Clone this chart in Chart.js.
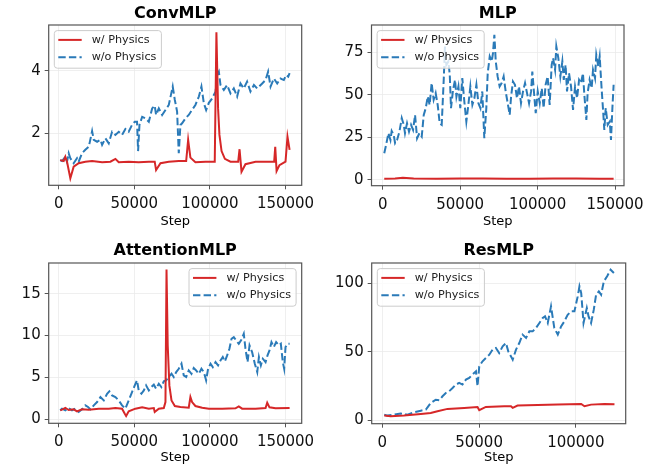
<!DOCTYPE html>
<html>
<head>
<meta charset="utf-8">
<script src="https://cdn.jsdelivr.net/npm/chart.js@4.4.0/dist/chart.umd.min.js"></script>
<style>
  html, body { margin: 0; padding: 0; background: #fff; }
  body { width: 670px; height: 466px; position: relative; overflow: hidden; }
  canvas { position: absolute; }
</style>
</head>
<body>
<script>
// ---- ConvMLP ----
const convPhysSteps = [1000, 3300, 4400, 5500, 7700, 9900, 13200, 17600, 22100, 28700, 34200, 37500, 39700, 46300, 52900, 59600, 63500, 64400, 67300, 72800, 79400, 84300, 85600, 87100, 90400, 97100, 103200, 104300, 105400, 106300, 107700, 109900, 113600, 118700, 119600, 120900, 123500, 130200, 139000, 142500, 143200, 144100, 146000, 150000, 151300, 152700];
const convPhysLoss = [1.14, 1.11, 1.25, 1.09, 0.56, 0.93, 1.04, 1.09, 1.11, 1.07, 1.09, 1.18, 1.07, 1.09, 1.07, 1.09, 1.09, 0.82, 1.04, 1.09, 1.11, 1.11, 1.79, 1.22, 1.07, 1.09, 1.09, 5.24, 2.8, 1.95, 1.43, 1.18, 1.09, 1.09, 1.49, 0.77, 1.01, 1.09, 1.09, 1.09, 1.57, 0.79, 0.98, 1.09, 1.89, 1.47];
const convBaseSteps = [1000, 2200, 4400, 5500, 6600, 7700, 9900, 12100, 13200, 15400, 17600, 19900, 22100, 23200, 25400, 27600, 28700, 30900, 33100, 35300, 37500, 39700, 41900, 44100, 46300, 48500, 50300, 51800, 52500, 53400, 55200, 57400, 59600, 61800, 63500, 64400, 66200, 68400, 70600, 72800, 75400, 76800, 78300, 79400, 80500, 81600, 83800, 86000, 88200, 90400, 92700, 94400, 96000, 97500, 99300, 101500, 103700, 104800, 105900, 107000, 109200, 111400, 113600, 115800, 118000, 120200, 122400, 124600, 126800, 129100, 131300, 134600, 136800, 138500, 140100, 142300, 144500, 146700, 148900, 150400, 151800, 152700];
const convBaseLoss = [1.14, 1.11, 1.25, 1.09, 1.36, 1.20, 1.04, 1.20, 1.09, 1.36, 1.47, 1.57, 2.07, 1.79, 1.73, 1.79, 1.63, 1.84, 1.68, 2.05, 1.95, 2.05, 1.95, 2.14, 2.05, 2.27, 2.37, 2.37, 1.43, 2.27, 2.53, 2.48, 2.37, 2.80, 2.89, 2.59, 2.80, 2.59, 2.75, 2.91, 3.50, 3.07, 2.70, 1.36, 2.27, 2.32, 2.48, 2.59, 2.75, 2.91, 3.18, 3.50, 2.96, 2.75, 2.98, 3.12, 3.34, 3.87, 3.98, 3.55, 3.39, 3.55, 3.28, 3.44, 3.18, 3.60, 3.44, 3.66, 3.34, 3.55, 3.44, 3.60, 3.71, 3.98, 3.50, 3.76, 3.60, 3.76, 3.71, 3.87, 3.82, 3.93];

// ---- MLP ----
const mlpPhysSteps = [1000, 8000, 13000, 20000, 35000, 50000, 65000, 80000, 95000, 110000, 125000, 140000, 149100];
const mlpPhysLoss = [0.8, 0.9, 1.3, 0.9, 0.8, 0.9, 0.9, 0.8, 0.8, 0.9, 0.9, 0.8, 0.8];
const mlpBaseSteps = [1000, 2200, 3700, 5000, 5800, 7100, 8000, 9300, 10800, 12300, 13600, 14400, 15700, 17000, 18300, 19600, 20900, 22200, 23700, 25200, 26500, 27800, 29100, 30300, 31600, 32900, 34200, 35500, 36800, 38100, 39400, 40200, 41100, 42400, 43300, 44100, 45400, 46700, 47600, 48900, 50100, 51400, 52700, 54000, 55300, 56600, 57900, 59200, 60500, 61800, 63100, 64300, 65600, 66900, 67800, 69100, 70400, 71200, 72100, 73000, 74200, 75500, 76800, 78100, 79400, 80700, 82000, 82900, 84100, 85400, 86700, 88000, 89300, 90600, 91900, 93200, 94500, 95800, 96600, 97900, 98800, 100100, 101400, 102700, 103900, 105200, 106500, 107800, 109100, 110000, 111300, 112100, 113400, 114700, 116000, 116900, 118100, 119000, 120300, 121600, 122900, 124200, 125500, 126800, 128000, 129300, 130200, 131500, 132300, 133600, 134900, 135800, 137100, 137900, 139200, 140100, 141400, 142200, 143100, 144000, 145300, 146600, 147400, 148300, 149100];
const mlpBaseLoss = [15.7, 20.6, 27.5, 23.5, 28.8, 26.5, 21.6, 23.5, 28.4, 36.3, 32.4, 27.5, 33.3, 28.4, 32.4, 29.4, 38.2, 24.5, 27.5, 25.5, 38.2, 42.2, 49.0, 44.1, 56.9, 47.1, 51.0, 44.1, 33.3, 32.4, 58.8, 78.4, 67.6, 69.6, 61.8, 42.2, 52.9, 58.8, 49.0, 54.9, 42.2, 59.8, 46.1, 34.3, 44.1, 54.9, 44.1, 48.0, 55.9, 45.1, 42.2, 52.0, 24.5, 42.2, 62.7, 72.5, 69.6, 74.5, 85.3, 69.6, 60.8, 54.9, 56.9, 60.8, 52.0, 45.1, 38.2, 49.0, 57.8, 55.9, 48.0, 54.9, 45.1, 52.0, 56.9, 51.0, 45.1, 52.0, 63.7, 49.0, 39.2, 52.0, 45.1, 53.9, 42.2, 55.9, 60.8, 44.1, 67.6, 71.6, 64.7, 78.4, 71.6, 60.8, 69.6, 58.8, 67.6, 52.0, 62.7, 54.9, 41.2, 54.9, 48.0, 58.8, 56.9, 62.7, 50.0, 35.3, 51.0, 58.8, 53.9, 64.7, 59.8, 73.5, 66.7, 72.5, 52.9, 42.2, 29.4, 42.2, 32.4, 34.3, 23.5, 42.2, 55.9];

// ---- AttentionMLP ----
const attnPhysSteps = [1000, 2200, 4400, 6600, 9900, 12100, 15400, 19900, 26500, 33100, 37500, 41900, 43700, 44600, 46300, 50700, 55200, 59600, 62900, 63500, 66200, 69500, 70600, 71300, 72100, 73200, 74600, 76800, 80500, 86000, 87100, 88200, 90400, 94900, 99300, 108100, 116900, 119100, 121300, 130200, 136800, 137900, 139400, 143400, 152700];
const attnPhysLoss = [1.04, 1.12, 1.32, 1.08, 1.16, 0.92, 1.16, 1.12, 1.24, 1.24, 1.32, 1.24, 0.64, 0.36, 0.92, 1.24, 1.40, 1.24, 1.32, 0.84, 1.24, 1.32, 2.03, 17.9, 8.8, 4.0, 2.23, 1.56, 1.44, 1.36, 2.63, 2.03, 1.56, 1.36, 1.24, 1.24, 1.28, 1.52, 1.24, 1.24, 1.32, 1.95, 1.40, 1.28, 1.32];
const attnBaseSteps = [1000, 2200, 4400, 6600, 8800, 11000, 13200, 15400, 17600, 19400, 21000, 23200, 25400, 27600, 29800, 32000, 33500, 35300, 37500, 39700, 41900, 44100, 46300, 48500, 50300, 51800, 52900, 54700, 56300, 57800, 59600, 61300, 62900, 64400, 66200, 67900, 69500, 71000, 72800, 74600, 76100, 77700, 79400, 81200, 82700, 84300, 86000, 87800, 89300, 90900, 92700, 94400, 96000, 97500, 98800, 100400, 101900, 103700, 105400, 107000, 108500, 109900, 111400, 112900, 114300, 115800, 117400, 119100, 120900, 122400, 123500, 124900, 126200, 127900, 129700, 131300, 132400, 133700, 135000, 136800, 138100, 139400, 140700, 142300, 143800, 145600, 146900, 148200, 149100, 150000, 151300, 152700];
const attnBaseLoss = [1.04, 1.24, 1.04, 1.32, 1.04, 1.24, 0.84, 1.16, 1.64, 1.44, 1.16, 1.64, 2.03, 2.63, 2.23, 3.03, 3.31, 2.83, 2.63, 2.23, 1.64, 1.24, 2.23, 3.23, 4.03, 4.63, 3.43, 3.03, 3.43, 4.03, 3.43, 3.83, 4.11, 3.63, 4.23, 3.83, 4.51, 4.63, 5.03, 5.42, 5.03, 5.62, 6.02, 6.62, 5.23, 5.03, 5.82, 5.42, 6.10, 5.82, 5.42, 6.02, 5.62, 4.63, 6.02, 6.62, 6.22, 6.82, 6.42, 7.02, 7.42, 6.90, 7.62, 8.42, 9.61, 9.81, 9.41, 9.01, 9.53, 10.21, 8.42, 6.82, 8.82, 8.02, 6.62, 5.62, 7.42, 6.42, 7.22, 6.82, 7.62, 8.22, 9.21, 8.62, 9.21, 8.82, 9.01, 6.82, 6.02, 8.62, 9.01, 9.01];

// ---- ResMLP ----
const resPhysSteps = [1000, 4300, 11200, 19900, 25000, 28500, 33700, 42300, 49200, 50100, 53500, 63000, 66500, 67400, 69900, 80300, 90700, 102800, 104500, 107900, 114800, 120000];
const resPhysLoss = [3.4, 2.9, 3.4, 4.6, 5.3, 6.6, 8.3, 9.0, 9.7, 7.3, 9.7, 10.2, 10.2, 9.0, 10.7, 11.2, 11.4, 11.9, 10.2, 11.4, 11.9, 11.7];
const resBaseSteps = [1000, 2600, 6000, 9500, 13000, 16400, 19900, 22500, 25000, 27600, 29400, 31100, 32800, 34500, 36300, 38000, 39700, 41400, 43200, 44900, 46600, 48400, 49200, 50100, 51800, 53500, 55300, 57000, 58700, 60400, 62200, 63900, 65100, 67400, 69100, 70800, 72500, 74300, 76000, 77700, 79400, 81200, 82900, 84100, 85500, 87200, 88900, 90700, 92400, 94100, 95800, 97600, 99300, 101000, 101900, 102800, 104000, 105700, 106600, 107900, 109300, 110500, 111900, 113100, 114500, 116200, 118000, 119700];
const resBaseLoss = [4.1, 3.4, 4.1, 4.9, 4.1, 5.8, 7.0, 7.8, 12.6, 15.0, 14.6, 17.5, 19.9, 21.1, 23.5, 26.0, 27.2, 26.0, 29.6, 30.8, 33.3, 35.7, 24.8, 39.3, 43.0, 45.4, 47.8, 51.5, 52.7, 49.0, 53.9, 56.3, 50.2, 44.2, 51.5, 56.3, 62.4, 60.0, 64.8, 64.8, 67.2, 70.9, 74.5, 75.7, 70.9, 83.0, 67.2, 62.4, 68.4, 72.1, 76.9, 79.4, 79.4, 90.3, 97.6, 92.7, 70.9, 81.8, 75.7, 70.9, 80.6, 91.5, 93.9, 91.5, 101.2, 104.9, 109.7, 107.3];

const FONT = '"DejaVu Sans", sans-serif';
const RED = '#d62728';
const BLUE = '#2a7ab8';

function points(steps, vals) {
  return steps.map((s, i) => ({x: s, y: vals[i]}));
}

// draws the axes frame and an in-plot legend box, matplotlib style
const framePlugin = {
  id: 'frame',
  afterDraw(chart) {
    const {ctx, chartArea: a} = chart;
    const opts = chart.options.plugins.frame;
    ctx.save();
    ctx.strokeStyle = '#555';
    ctx.lineWidth = 1.2;
    ctx.strokeRect(a.left, a.top, a.right - a.left, a.bottom - a.top);

    ctx.font = '11.2px ' + FONT;
    const sets = chart.data.datasets;
    const textW = Math.max(...sets.map(d => ctx.measureText(d.label).width));
    const w = 4 + 23.4 + 10 + textW + 5;
    const h = 37.6;
    const x = opts.corner === 'right' ? a.right - 5.6 - w : a.left + 5.6;
    const y = a.top + 5.6;
    ctx.beginPath();
    ctx.roundRect(x, y, w, h, 3);
    ctx.fillStyle = 'rgba(255,255,255,0.8)';
    ctx.fill();
    ctx.strokeStyle = '#cccccc';
    ctx.lineWidth = 1;
    ctx.stroke();
    sets.forEach((d, i) => {
      const ly = y + 9.3 + i * 17.3;
      ctx.beginPath();
      ctx.setLineDash(d.borderDash || []);
      ctx.strokeStyle = d.borderColor;
      ctx.lineWidth = d.borderWidth;
      ctx.moveTo(x + 4, ly);
      ctx.lineTo(x + 27.4, ly);
      ctx.stroke();
      ctx.setLineDash([]);
      ctx.fillStyle = '#222';
      ctx.textBaseline = 'middle';
      ctx.textAlign = 'left';
      ctx.fillText(d.label, x + 37.4, ly);
    });
    ctx.restore();
  }
};

function axis(o, ticks, fit, pad, extra) {
  return Object.assign({
    type: 'linear',
    min: o[0], max: o[1],
    afterBuildTicks: s => { s.ticks = ticks.map(v => ({value: v})); },
    afterFit: fit,
    border: {display: false},
    grid: {color: '#ebebeb', lineWidth: 0.8, tickColor: '#555', tickWidth: 1, tickLength: 4},
    ticks: {font: {family: FONT, size: 15}, color: '#111', padding: pad, maxRotation: 0, autoSkip: false, callback: v => String(v)}
  }, extra || {});
}

function makeChart(c) {
  const W = 335, H = 233;
  const canvas = document.createElement('canvas');
  canvas.width = W; canvas.height = H;
  canvas.style.left = c.cell[0] + 'px';
  canvas.style.top = c.cell[1] + 'px';
  document.body.appendChild(canvas);
  const [l, t, r, b] = c.area.map((v, i) => v - c.cell[i % 2]);
  new Chart(canvas, {
    type: 'line',
    data: {
      datasets: [
        {label: 'w/ Physics', data: points(c.phys[0], c.phys[1]), borderColor: RED, borderWidth: 2, pointRadius: 0, tension: 0},
        {label: 'w/o Physics', data: points(c.base[0], c.base[1]), borderColor: BLUE, borderWidth: 2, borderDash: [7.4, 3.2], pointRadius: 0, tension: 0}
      ]
    },
    options: {
      responsive: false,
      animation: false,
      layout: {autoPadding: false, padding: {left: 0, top: 0, right: W - r, bottom: 0}},
      plugins: {
        legend: {display: false},
        tooltip: {enabled: false},
        title: {display: true, fullSize: false, text: c.title, color: '#000',
          font: {family: FONT, size: 16, weight: 'bold'},
          padding: {top: c.titlePad, bottom: t - 19.2 - c.titlePad}},
        frame: {corner: c.corner}
      },
      scales: {
        x: axis(c.xRange, c.xTicks, s => { s.height = H - b; }, 6, {
          title: {display: true, text: 'Step', color: '#000', font: {family: FONT, size: 13}, padding: {top: 0, bottom: c.stepPad}}
        }),
        y: axis(c.yRange, c.yTicks, s => { s.width = l; }, 4)
      }
    },
    plugins: [framePlugin]
  });
}

makeChart({title: 'ConvMLP', cell: [0, 0], area: [48.7, 25, 301.7, 185.3], titlePad: 4.2, stepPad: 3.7, corner: 'left',
  xRange: [-6614, 160700], xTicks: [0, 50000, 100000, 150000], yRange: [0.332, 5.476], yTicks: [2, 4],
  phys: [convPhysSteps, convPhysLoss], base: [convBaseSteps, convBaseLoss]});
makeChart({title: 'MLP', cell: [335, 0], area: [371.5, 25, 624, 185.7], titlePad: 4.2, stepPad: 3.7, corner: 'left',
  xRange: [-7232, 155800], xTicks: [0, 50000, 100000, 150000], yRange: [-3.35, 91.0], yTicks: [0, 25, 50, 75],
  phys: [mlpPhysSteps, mlpPhysLoss], base: [mlpBaseSteps, mlpBaseLoss]});
makeChart({title: 'AttentionMLP', cell: [0, 233], area: [48.7, 263, 301.7, 423.3], titlePad: 8.3, stepPad: 0.3, corner: 'right',
  xRange: [-6614, 160700], xTicks: [0, 50000, 100000, 150000], yRange: [-0.51, 18.68], yTicks: [0, 5, 10, 15],
  phys: [attnPhysSteps, attnPhysLoss], base: [attnBaseSteps, attnBaseLoss]});
makeChart({title: 'ResMLP', cell: [335, 233], area: [371.7, 263, 625.7, 423.7], titlePad: 8.3, stepPad: 0.3, corner: 'left',
  xRange: [-5500, 125800], xTicks: [0, 50000, 100000], yRange: [-2.5, 114.6], yTicks: [0, 50, 100],
  phys: [resPhysSteps, resPhysLoss], base: [resBaseSteps, resBaseLoss]});
</script>
</body>
</html>
